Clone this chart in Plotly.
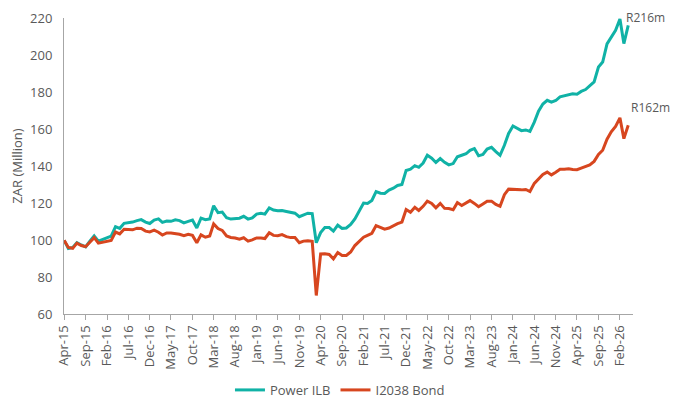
import pandas as pd
import plotly.graph_objects as go

# Monthly series, Apr-15 .. Apr-26 (ZAR million)
START_MONTH = "2015-04-01"

power_ilb = [
    99.8, 95.4, 96.0, 98.6, 97.3, 96.3, 99.3, 102.2, 99.4, 100.4,
    101.5, 102.1, 107.2, 106.3, 109.0, 109.2, 109.7, 110.5, 111.0, 109.7,
    108.9, 110.8, 111.4, 109.5, 110.2, 110.1, 110.9, 110.5, 109.3, 110.1,
    110.8, 106.5, 111.8, 111.0, 111.4, 118.5, 114.8, 115.1, 112.0, 111.3,
    111.6, 111.8, 112.8, 111.3, 111.9, 114.0, 114.4, 114.0, 117.3, 116.2,
    115.8, 115.9, 115.4, 115.0, 114.5, 112.6, 113.7, 114.5, 114.3, 98.5,
    104.0, 106.7, 106.7, 104.8, 108.0, 106.3, 106.5, 108.4, 111.4, 115.5,
    120.0, 119.8, 121.4, 126.2, 125.3, 125.2, 127.0, 128.0, 129.5, 130.0,
    137.6, 138.3, 140.2, 139.3, 141.6, 145.8, 144.2, 141.9, 144.0, 142.0,
    140.6, 141.3, 145.0, 145.8, 146.6, 148.5, 149.4, 145.5, 146.2, 149.2,
    150.1, 147.8, 145.8, 151.2, 157.6, 161.6, 160.4, 159.1, 159.5, 158.7,
    163.7, 169.6, 173.5, 175.5, 174.5, 175.4, 177.4, 177.9, 178.5, 179.0,
    178.8, 180.3, 181.3, 183.2, 185.5, 193.5, 196.2, 206.0, 210.0, 213.4,
    219.5, 206.2, 216.0,
]

i2038_bond = [
    99.8, 96.0, 95.5, 98.3, 97.0, 96.4, 98.8, 101.3, 98.3, 98.9,
    99.3, 99.8, 104.3, 103.3, 105.8, 105.5, 105.5, 106.4, 106.2, 104.8,
    104.4, 105.3, 104.2, 102.7, 103.8, 103.8, 103.6, 103.1, 102.3, 103.1,
    102.5, 98.5, 102.8, 101.5, 102.2, 108.7, 106.2, 105.2, 102.2, 101.4,
    101.1, 100.4, 101.2, 99.4, 100.1, 101.1, 101.1, 100.8, 103.9, 102.5,
    102.3, 102.9, 101.8, 101.3, 101.3, 98.5, 99.4, 99.6, 99.3, 70.0,
    92.5, 92.6, 92.2, 89.8, 93.2, 91.6, 91.6, 93.5, 97.0, 99.5,
    101.5, 102.5, 103.6, 107.8, 107.0, 105.9, 106.5, 107.9, 108.8, 109.7,
    116.5, 115.0, 117.7, 116.0, 118.2, 121.0, 119.8, 117.4, 119.8, 117.1,
    117.0, 116.4, 120.2, 118.6, 120.0, 121.3, 119.8, 118.0, 119.5, 121.0,
    121.0, 119.2, 118.2, 124.5, 127.5, 127.4, 126.9, 127.1, 127.3, 126.2,
    130.6, 133.0, 135.4, 136.7, 135.2, 136.6, 138.2, 138.2, 138.5, 138.1,
    138.0, 138.9, 139.7, 140.6, 142.5, 146.3, 148.5, 154.5, 158.5, 161.4,
    166.0, 154.8, 162.0,
]

tick_labels = [
    "Apr-15", "Sep-15", "Feb-16", "Jul-16", "Dec-16", "May-17", "Oct-17",
    "Mar-18", "Aug-18", "Jan-19", "Jun-19", "Nov-19", "Apr-20", "Sep-20",
    "Feb-21", "Jul-21", "Dec-21", "May-22", "Oct-22", "Mar-23", "Aug-23",
    "Jan-24", "Jun-24", "Nov-24", "Apr-25", "Sep-25", "Feb-26",
]

series_names = ["Power ILB", "I2038 Bond"]
series_colors = ["#10B2A6", "#D7461F"]

months = pd.date_range(START_MONTH, periods=len(power_ilb), freq="MS")
tick_vals = [months[i * 5] for i in range(len(tick_labels))]

FONT = "Open Sans"
GREY = "#595959"

fig = go.Figure()
for name, vals, col in zip(series_names, [power_ilb, i2038_bond], series_colors):
    fig.add_trace(go.Scatter(
        x=months, y=vals, mode="lines", name=name,
        line=dict(color=col, width=3),
    ))

# End labels
fig.add_annotation(x=months[-1], y=power_ilb[-1], text=f"R{round(power_ilb[-1])}m",
                   showarrow=False, xanchor="left", yanchor="middle", borderpad=0,
                   xshift=-3, yshift=8, font=dict(family=FONT, size=12, color=GREY))
fig.add_annotation(x=months[-1], y=i2038_bond[-1], text=f"R{round(i2038_bond[-1])}m",
                   showarrow=False, xanchor="left", yanchor="middle", borderpad=0,
                   xshift=2, yshift=18, font=dict(family=FONT, size=12, color=GREY))

# page body has an 8px margin, so the figure is sized to fit inside the window
fig.update_layout(
    width=679, height=395,
    margin=dict(l=56, r=54, t=10, b=89, autoexpand=False),
    paper_bgcolor="white", plot_bgcolor="white",
    font=dict(family=FONT, size=13, color=GREY),
    showlegend=True,
    legend=dict(orientation="h", x=0.485, xanchor="center",
                yref="container", y=0.033, yanchor="middle",
                font=dict(family=FONT, size=13, color=GREY)),
    xaxis=dict(
        type="date",
        range=[months[0] - pd.Timedelta(days=1), months[-1] + pd.Timedelta(days=34)],
        tickvals=tick_vals, ticktext=tick_labels, tickangle=-90,
        ticks="outside", ticklen=5, tickcolor="#A6A6A6", tickwidth=1,
        showline=True, linecolor="#A6A6A6", linewidth=1,
        showgrid=False, zeroline=False,
        tickfont=dict(family=FONT, size=13, color=GREY),
        automargin=False,
    ),
    yaxis=dict(
        range=[60, 220], dtick=20, tick0=60,
        showline=True, linecolor="#A6A6A6", linewidth=1,
        ticks="", ticklabelstandoff=8,
        showgrid=False, zeroline=False,
        tickfont=dict(family=FONT, size=13, color=GREY),
        title=dict(text="ZAR (Million)", standoff=5,
                   font=dict(family=FONT, size=13, color=GREY)),
        automargin=False,
    ),
)

fig.write_html("out.html")
